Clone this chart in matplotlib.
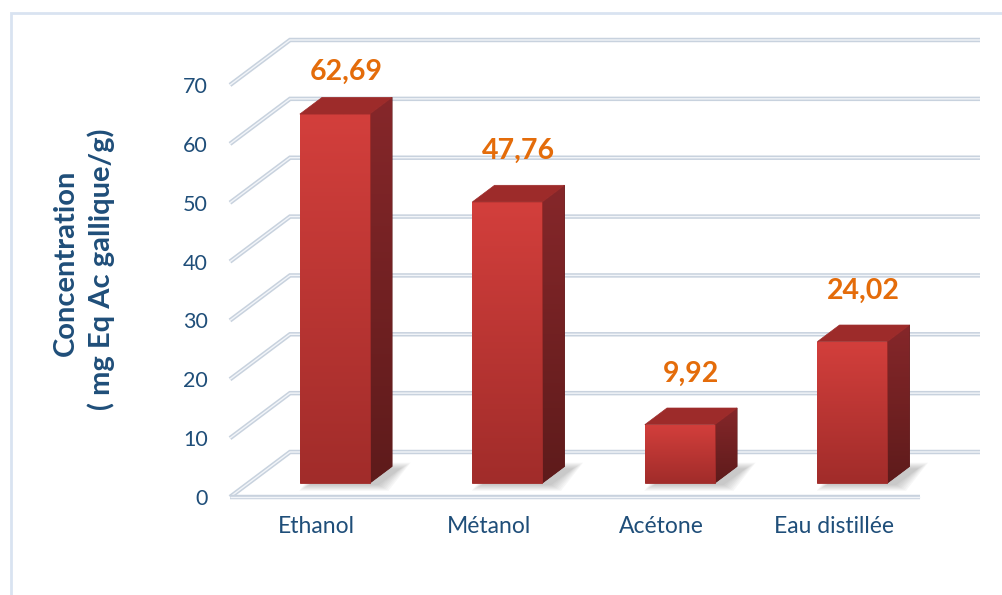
import numpy as np
import matplotlib
matplotlib.use("Agg")
import matplotlib.pyplot as plt
from matplotlib.patches import Polygon, Rectangle
from matplotlib.lines import Line2D
from matplotlib.transforms import IdentityTransform, offset_copy
from matplotlib.colors import LinearSegmentedColormap

plt.rcParams['font.family'] = ['Lato', 'DejaVu Sans']

# extraction results, mg Eq Ac gallique / g
solvants = ['Ethanol', 'Métanol', 'Acétone', 'Eau distillée']
concentration = [62.69, 47.76, 9.92, 24.02]
labels = ['62,69', '47,76', '9,92', '24,02']
yticks = [0, 10, 20, 30, 40, 50, 60, 70]

W, H = 1003, 595
blue = '#1f4e79'
orange = '#e46c0a'

fig = plt.figure(figsize=(W / 100, H / 100), dpi=100)
ax = fig.add_axes([230 / W, (H - 497) / H, 690 / W, 412 / H])
ax.set_xlim(-0.5, 3.5)
ax.set_ylim(0, 70)
ax.set_autoscale_on(False)
for s in ax.spines.values():
    s.set_visible(False)
ax.patch.set_visible(False)

ax.set_yticks(yticks)
ax.set_xticks(range(len(solvants)), solvants)
ax.tick_params(axis='y', length=0, pad=16, labelsize=15.5, labelcolor=blue)
ax.tick_params(axis='x', length=0, pad=14, labelsize=16.5, labelcolor=blue)

# depth of the 3d box in pixels (x right, y up)
DX, DY = 60, 45
ident = IdentityTransform()


def pt(x, v, d):
    return ax.transData.transform((x, v)) + np.array([DX * d, DY * d])


# walls / gridlines
for v in yticks:
    p = np.array([pt(-0.5, v, 0), pt(-0.5, v, 1), pt(3.5, v, 1)])
    for lw, c in [(3.2, '#c8d2de'), (1.0, '#f2f5f9')]:
        ax.add_line(Line2D(p[:, 0], p[:, 1], transform=ident, lw=lw,
                           color=c, clip_on=False, zorder=1,
                           solid_capstyle='butt', solid_joinstyle='miter'))
p = np.array([pt(-0.5, 0, 0), pt(3.5, 0, 0)])
for lw, c in [(3.2, '#c8d2de'), (1.0, '#f2f5f9')]:
    ax.add_line(Line2D(p[:, 0], p[:, 1], transform=ident, lw=lw, color=c,
                       clip_on=False, zorder=1, solid_capstyle='butt'))


def grad_face(verts, top_col, bot_col, z):
    verts = np.asarray(verts)
    poly = Polygon(verts, closed=True, transform=ident, facecolor=bot_col,
                   edgecolor=bot_col, lw=0.6, clip_on=False, zorder=z - 0.1)
    ax.add_patch(poly)
    cmap = LinearSegmentedColormap.from_list('f', [bot_col, top_col])
    g = np.linspace(0, 1, 256).reshape(-1, 1)
    im = ax.imshow(g, cmap=cmap, origin='lower', aspect='auto',
                   extent=(verts[:, 0].min(), verts[:, 0].max(),
                           verts[:, 1].min(), verts[:, 1].max()),
                   transform=ident, zorder=z, interpolation='bilinear')
    im.set_clip_path(poly)
    return im


hw = 0.203
d0, d1 = 0.31, 0.68
for i, v in enumerate(concentration):
    # soft shadow on the floor
    foot = np.array([pt(i - hw, 0, d0), pt(i + hw, 0, d0),
                     pt(i + hw, 0, d1), pt(i - hw, 0, d1)])
    for k in range(7):
        grow = np.array([[-k, -k * 0.6], [k, -k * 0.6], [k, k * 0.6], [-k, k * 0.6]])
        sh = foot + np.array([9, -2]) + grow * 1.6
        ax.add_patch(Polygon(sh, closed=True, transform=ident,
                             facecolor='#404040', alpha=0.045,
                             edgecolor='none', zorder=2, clip_on=False))
    front = [pt(i - hw, 0, d0), pt(i + hw, 0, d0), pt(i + hw, v, d0), pt(i - hw, v, d0)]
    side = [pt(i + hw, 0, d0), pt(i + hw, 0, d1), pt(i + hw, v, d1), pt(i + hw, v, d0)]
    top = [pt(i - hw, v, d0), pt(i + hw, v, d0), pt(i + hw, v, d1), pt(i - hw, v, d1)]
    grad_face(side, '#86272a', '#5e1b1b', 3)
    grad_face(front, '#d33f3c', '#a12c2a', 3.5)
    ax.add_patch(Polygon(top, closed=True, transform=ident, facecolor='#9d2b2a',
                         edgecolor='#9d2b2a', lw=0.5, zorder=4, clip_on=False))

# value labels above each bar
lab_tr = offset_copy(ax.transData, fig=fig, x=DX * 0.5, y=DY * 0.5, units='dots')
for i, (v, t) in enumerate(zip(concentration, labels)):
    ax.text(i, min(v + 7.2, 68.4), t, transform=lab_tr, ha='center',
            va='center', fontsize=20.5, fontweight='bold', color=orange,
            zorder=6, clip_on=False)

fig.text(66 / W, 1 - 263 / H, 'Concentration', rotation=90, ha='center',
         va='center', fontsize=21, fontweight='bold', color=blue)
fig.text(101 / W, 1 - 269 / H, '( mg Eq Ac gallique/g)', rotation=90,
         ha='center', va='center', fontsize=21, fontweight='bold', color=blue)

# chart area border
fig.patches.append(Rectangle((11 / W, -0.1), 1.2, 1.1 - 13 / H,
                             transform=fig.transFigure, fill=False,
                             edgecolor='#d9e3f1', lw=2))

fig.savefig('out.png', dpi=100)
